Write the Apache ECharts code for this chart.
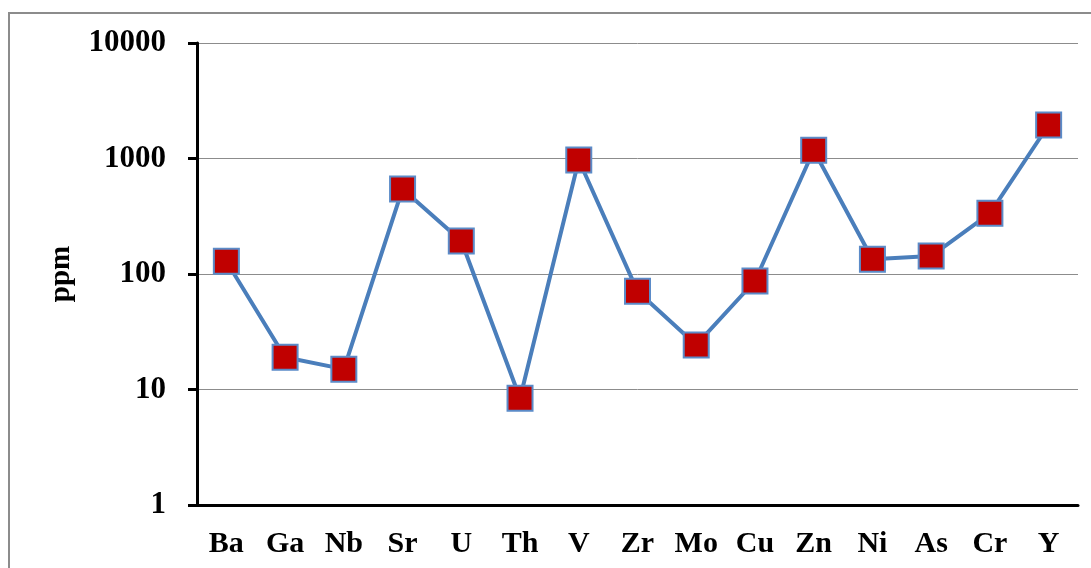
<!DOCTYPE html>
<html>
<head>
<meta charset="utf-8">
<script src="https://cdn.jsdelivr.net/npm/echarts@6/dist/echarts.min.js"></script>
<style>
html,body{margin:0;padding:0;background:#fff;}
#c{width:1091px;height:568px;}
</style>
</head>
<body>
<div id="c"></div>
<script>
const categories = ['Ba','Ga','Nb','Sr','U','Th','V','Zr','Mo','Cu','Zn','Ni','As','Cr','Y'];
const values = [129, 19, 15, 545, 193, 8.4, 970, 71, 24.3, 87, 1180, 134, 143, 335, 1950];
const yTicks = [1, 10, 100, 1000, 10000];

const FONT = 'Liberation Serif';
const chart = echarts.init(document.getElementById('c'));
chart.setOption({
  animation: false,
  graphic: [{
    type: 'rect',
    shape: {x: 9, y: 13, width: 1300, height: 800},
    style: {fill: 'none', stroke: '#8c8c8c', lineWidth: 2}
  }],
  grid: {left: 197, top: 43, right: 13, bottom: 63, containLabel: false},
  xAxis: {
    type: 'category',
    data: categories,
    boundaryGap: true,
    axisLine: {lineStyle: {color: '#000', width: 3}},
    axisTick: {show: false},
    axisLabel: {fontFamily: FONT, fontWeight: 'bold', fontSize: 30, color: '#000', margin: 24}
  },
  yAxis: {
    type: 'log',
    logBase: 10,
    min: yTicks[0],
    max: yTicks[yTicks.length - 1],
    name: 'ppm',
    nameLocation: 'middle',
    nameRotate: 90,
    nameGap: 121,
    nameTextStyle: {fontFamily: FONT, fontWeight: 'bold', fontSize: 29, color: '#000'},
    axisLine: {show: true, lineStyle: {color: '#000', width: 3}},
    axisTick: {show: true, length: 9, lineStyle: {color: '#000', width: 3}},
    axisLabel: {fontFamily: FONT, fontWeight: 'bold', fontSize: 31, color: '#000', margin: 31,
      formatter: v => String(Math.round(v))},
    splitLine: {show: true, lineStyle: {color: '#8c8c8c', width: 1}}
  },
  series: [{
    type: 'line',
    data: values,
    symbol: 'rect',
    symbolSize: 25,
    lineStyle: {color: '#4a7ebb', width: 4},
    itemStyle: {color: '#c00000', borderColor: '#5b8bc8', borderWidth: 2}
  }]
});
</script>
</body>
</html>
